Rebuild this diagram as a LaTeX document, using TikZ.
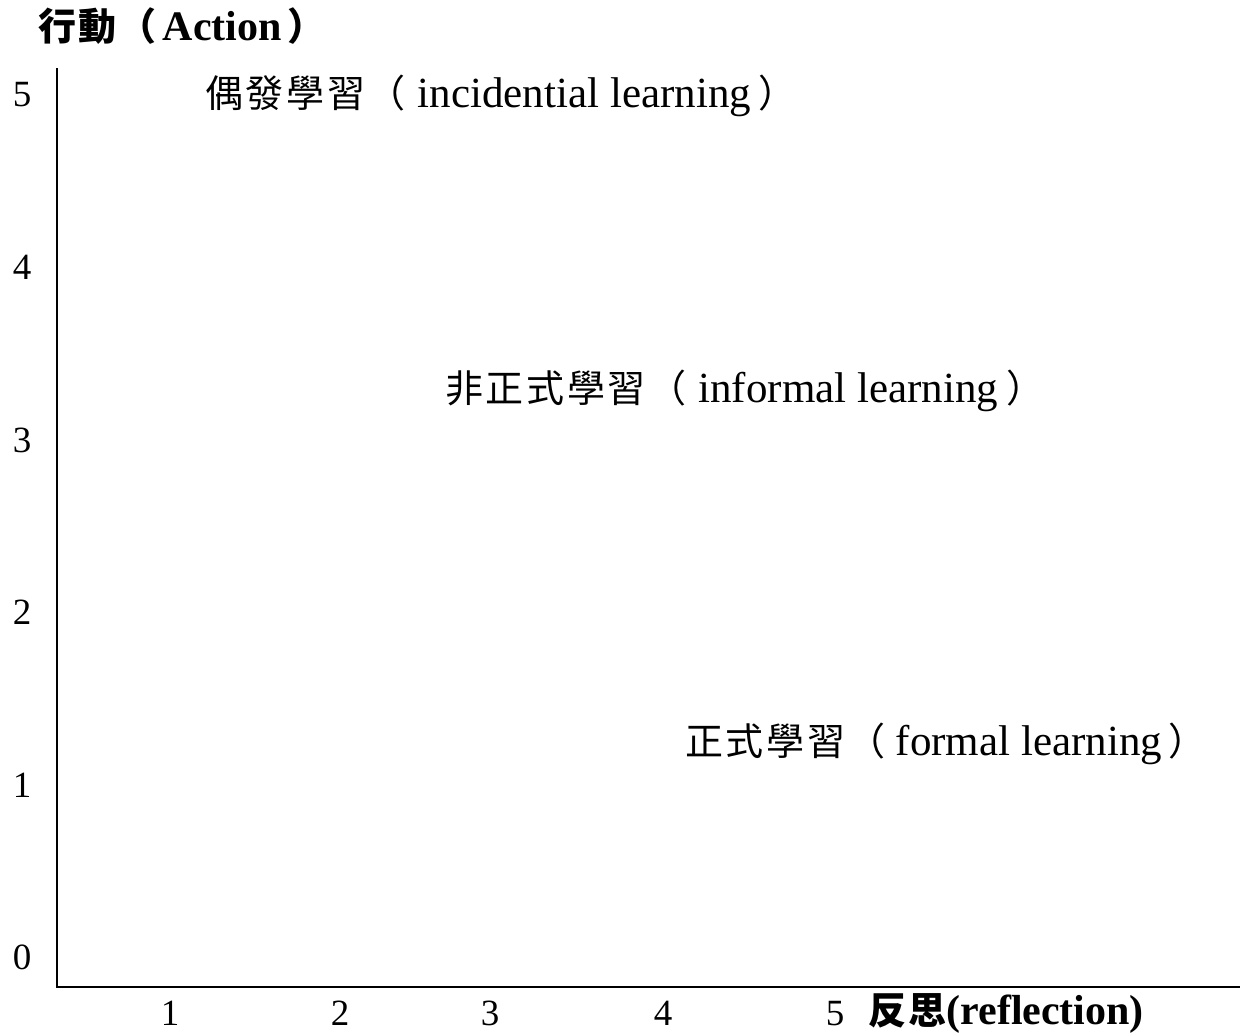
\documentclass[tikz,border=0pt]{standalone}
\usepackage{fontspec}
\setmainfont{Liberation Serif}
\newfontfamily\cjk[LetterSpace=7]{Noto Sans CJK TC}
\newfontfamily\cjkbold[LetterSpace=6]{Noto Sans CJK TC Bold}
\begin{document}
\begin{tikzpicture}[x=1pt,y=-1pt,
  axis/.style={line width=2.6pt},
  tick/.style={font=\fontsize{37}{40}\selectfont, inner sep=0pt, anchor=base},
  lbl/.style={font=\fontsize{43}{45}\selectfont, inner sep=0pt, anchor=base west},
  headlbl/.style={font=\fontsize{42}{44}\selectfont\bfseries, inner sep=0pt, anchor=base west}]
  \useasboundingbox (0,0) rectangle (1244,1034);

  % axes
  \coordinate (top) at (57,68);
  \coordinate (origin) at (57,987);
  \coordinate (right) at (1240,987);
  \draw[axis] (top) -- (origin) -- (right);

  % axis titles
  \node[headlbl] (ytitle) at (38,40)
    {{\fontsize{38}{40}\cjkbold 行動（}\hspace{6pt}Action\hspace{6pt}{\fontsize{38}{40}\cjkbold ）}};
  \node[headlbl] (xtitle) at (868,1024) {{\fontsize{38}{40}\cjkbold 反思}(reflection)};

  % vertical scale
  \node[tick] (y5) at (22,106) {5};
  \node[tick] (y4) at (22,279) {4};
  \node[tick] (y3) at (22,452) {3};
  \node[tick] (y2) at (22,624) {2};
  \node[tick] (y1) at (22,797) {1};
  \node[tick] (y0) at (22,969) {0};

  % horizontal scale
  \node[tick] (x1) at (170,1025) {1};
  \node[tick] (x2) at (340,1025) {2};
  \node[tick] (x3) at (490,1025) {3};
  \node[tick] (x4) at (663,1025) {4};
  \node[tick] (x5) at (835,1025) {5};

  % kinds of learning
  \node[lbl] (incidental) at (205,107)
    {{\fontsize{38}{40}\cjk 偶發學習（}\hspace{12pt}incidential learning\hspace{8pt}{\fontsize{38}{40}\cjk ）}};
  \node[lbl] (informal) at (445,402)
    {{\fontsize{38}{40}\cjk 非正式學習（}\hspace{12pt}informal learning\hspace{8pt}{\fontsize{38}{40}\cjk ）}};
  \node[lbl] (formal) at (685,755)
    {{\fontsize{38}{40}\cjk 正式學習（}\hspace{10pt}formal learning\hspace{6pt}{\fontsize{38}{40}\cjk ）}};
\end{tikzpicture}
\end{document}
